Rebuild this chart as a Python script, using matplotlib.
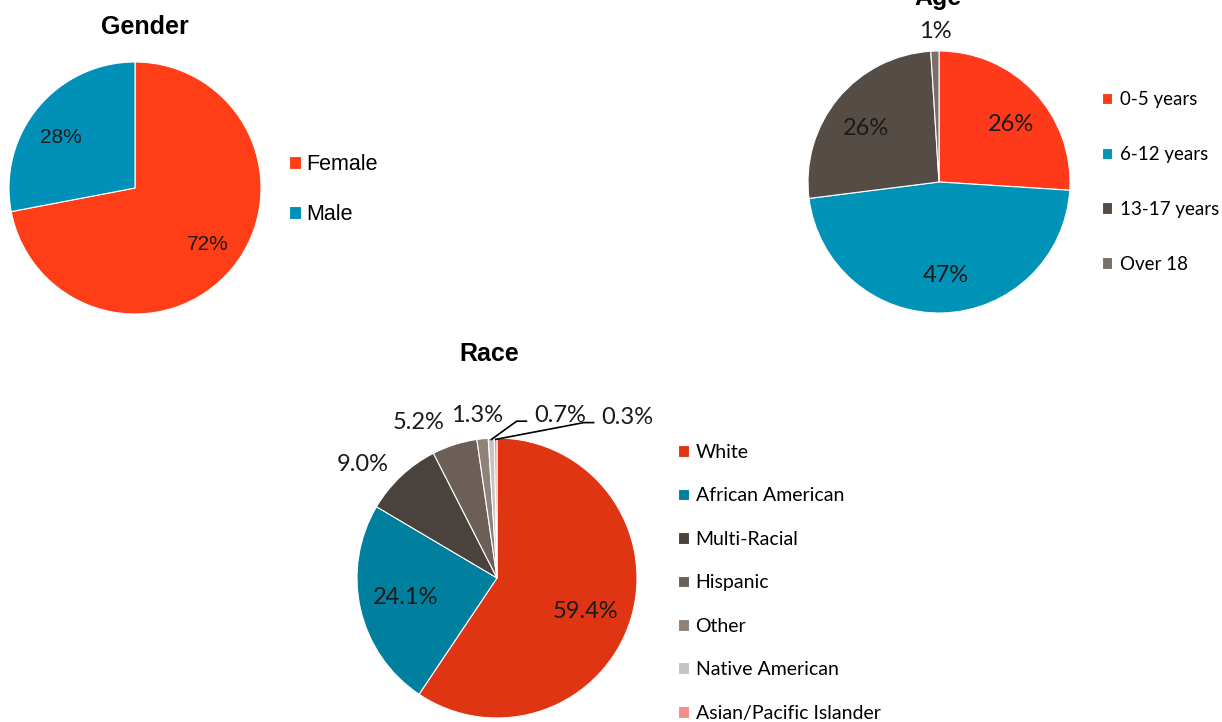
import matplotlib
matplotlib.use("Agg")
import matplotlib.pyplot as plt
import numpy as np

# ---------------- data ----------------
gender_labels = ["Female", "Male"]
gender_values = [72, 28]
gender_colors = ["#FF3D17", "#0090B8"]

age_labels = ["0-5 years", "6-12 years", "13-17 years", "Over 18"]
age_values = [26, 47, 26, 1]
age_colors = ["#FF3A1A", "#0093B7", "#564C46", "#7A6E66"]

race_labels = ["White", "African American", "Multi-Racial", "Hispanic", "Other",
               "Native American", "Asian/Pacific Islander"]
race_values = [59.4, 24.1, 9.0, 5.2, 1.3, 0.7, 0.3]
race_colors = ["#E03512", "#00809E", "#4A423C", "#6B5F58", "#8F8279", "#C8C3C1", "#F48E8A"]

W, H = 1222, 722
fig = plt.figure(figsize=(W / 100, H / 100), dpi=100)

ARIAL = "Liberation Sans"
CAL = "Lato"


def pie_axes(cx, cy, r):
    ax = fig.add_axes([(cx - r) / W, (H - cy - r) / H, 2 * r / W, 2 * r / H])
    return ax


def finish(ax):
    ax.set_xlim(-1, 1)
    ax.set_ylim(-1, 1)
    ax.set_axis_off()


def fig_xy(px, py):
    return px / W, 1 - py / H


# ---------------- Gender ----------------
ax_g = pie_axes(135, 188, 126)
wg, tg = ax_g.pie(gender_values, colors=gender_colors, startangle=90, counterclock=False,
                  radius=1, wedgeprops=dict(linewidth=0.8, edgecolor="white"))
finish(ax_g)
gender_label_pos = [(0.58, -0.45), (-0.59, 0.40)]
for (x, y), v in zip(gender_label_pos, gender_values):
    ax_g.text(x, y, f"{v}%", ha="center", va="center", fontsize=15, family=ARIAL,
              color="#1a1a1a")
fig.text(*fig_xy(145, 27), "Gender", ha="center", va="center", fontsize=18,
         fontweight="bold", family=ARIAL)
fig.legend(wg, gender_labels, loc="upper left", bbox_to_anchor=fig_xy(289, 154),
           frameon=False, prop=dict(family=ARIAL, size=15.5), handlelength=0.55,
           handleheight=0.55, handletextpad=0.25, labelspacing=1.35, borderpad=0,
           borderaxespad=0)

# ---------------- Age ----------------
ax_a = pie_axes(939, 182, 131)
wa, ta = ax_a.pie(age_values, colors=age_colors, startangle=90, counterclock=False,
                  radius=1, wedgeprops=dict(linewidth=0.8, edgecolor="white"))
finish(ax_a)
age_label_pos = [(0.55, 0.44), (0.05, -0.71), (-0.56, 0.41), (-0.03, 1.15)]
for (x, y), v in zip(age_label_pos, age_values):
    ax_a.text(x, y, f"{v}%", ha="center", va="center",
              fontsize=17, family=CAL, color="#1a1a1a", clip_on=False)
fig.text(*fig_xy(938, -2), "Age", ha="center", va="center", fontsize=18,
         fontweight="bold", family=ARIAL)
fig.legend(wa, age_labels, loc="upper left", bbox_to_anchor=fig_xy(1102, 91),
           frameon=False, prop=dict(family=CAL, size=13.5), handlelength=0.55,
           handleheight=0.55, handletextpad=0.4, labelspacing=2.02, borderpad=0,
           borderaxespad=0)

# ---------------- Race ----------------
ax_r = pie_axes(497, 578, 140)
wr, tr = ax_r.pie(race_values, colors=race_colors, startangle=90, counterclock=False,
                  radius=1, wedgeprops=dict(linewidth=0.8, edgecolor="white"))
finish(ax_r)
label_pos = {0: (0.63, -0.24), 1: (-0.65, -0.14), 2: (-0.96, 0.81), 3: (-0.56, 1.11),
             4: (-0.14, 1.16), 5: (0.45, 1.16), 6: (0.93, 1.15)}
for i, (w, v) in enumerate(zip(wr, race_values)):
    ang = np.deg2rad((w.theta1 + w.theta2) / 2)
    x, y = label_pos[i]
    ax_r.text(x, y, f"{v:.1f}%", ha="center", va="center", fontsize=17, family=CAL,
              color="#1a1a1a", clip_on=False)
    if i >= 5:
        ex, ey = 0.99 * np.cos(ang), 0.99 * np.sin(ang)
        lx = x - 0.24
        ax_r.plot([lx, lx - 0.07, ex], [y - 0.04, y - 0.04, ey], color="black",
                  lw=1.2, clip_on=False)
fig.text(*fig_xy(489, 354), "Race", ha="center", va="center", fontsize=18,
         fontweight="bold", family=ARIAL)
fig.legend(wr, race_labels, loc="upper left", bbox_to_anchor=fig_xy(678, 444),
           frameon=False, prop=dict(family=CAL, size=14), handlelength=0.55,
           handleheight=0.55, handletextpad=0.35, labelspacing=1.36, borderpad=0,
           borderaxespad=0)

fig.savefig("out.png", dpi=100)
